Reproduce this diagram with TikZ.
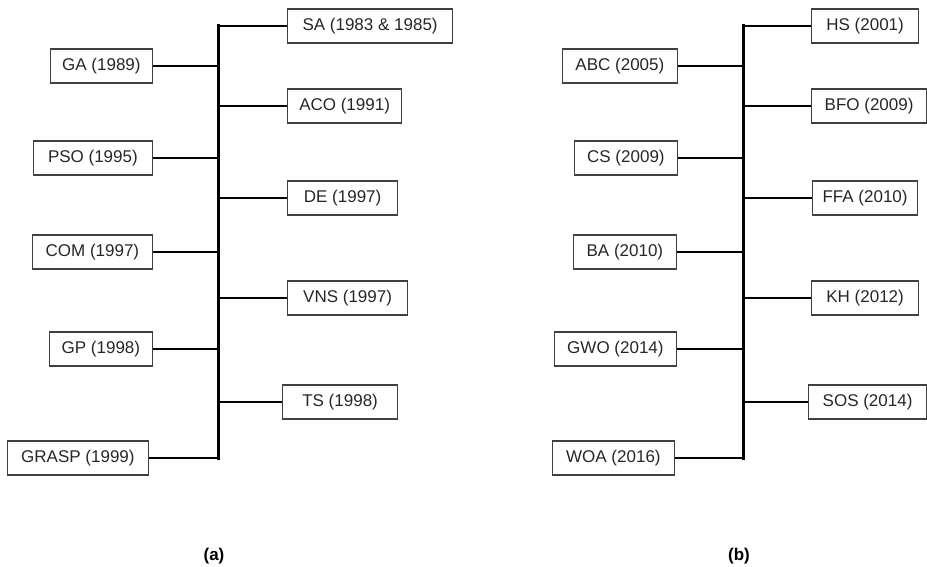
\documentclass[tikz,border=0pt]{standalone}
\usepackage{fontspec}
\setmainfont{Liberation Sans}

\begin{document}
\begin{tikzpicture}[x=1pt,y=-1pt,
    algo/.style={draw=black!75,line width=1.2pt,minimum height=34pt,inner sep=0pt,text=black!85,font=\fontsize{17}{20}\selectfont},
    spine/.style={line width=3pt,line cap=rect},
    branch/.style={line width=2.2pt},
    caption/.style={font=\bfseries\fontsize{17}{20}\selectfont}]
  \useasboundingbox (0,0) rectangle (927,567);
  % (a) older methods
  \coordinate (ax) at (218,0);
  \foreach \t/\w/\y/\r [count=\i] in {GA (1989)/102/66/153, PSO (1995)/119/158/153, COM (1997)/120/252/153, GP (1998)/103/349/153, GRASP (1999)/141/458/149}{
    \node[algo,anchor=east,minimum width=\w] (al\i) at (\r,\y) {\t};
    \draw[branch] (al\i.east) -- (al\i.east -| ax);}
  \foreach \t/\w/\y/\l [count=\i] in {SA (1983 \& 1985)/165/26/287, ACO (1991)/114/106/287, DE (1997)/110/198/287, VNS (1997)/120/298/287, TS (1998)/115/402/282}{
    \node[algo,anchor=west,minimum width=\w] (ar\i) at (\l,\y) {\t};
    \draw[branch] (ar\i.west) -- (ar\i.west -| ax);}
  \draw[spine] (ar1.west -| ax) -- (al5.east -| ax);
  \node[caption] (capa) at (214,556) {(a)};
  % (b) newer methods
  \coordinate (bx) at (743,0);
  \foreach \t/\w/\y/\r [count=\i] in {ABC (2005)/115/66/678, CS (2009)/103/158/678, BA (2010)/103/252/677, GWO (2014)/122/349/677, WOA (2016)/122/458/675}{
    \node[algo,anchor=east,minimum width=\w] (bl\i) at (\r,\y) {\t};
    \draw[branch] (bl\i.east) -- (bl\i.east -| bx);}
  \foreach \t/\w/\y/\l [count=\i] in {HS (2001)/107/26/811, BFO (2009)/115/106/811, FFA (2010)/105/198/812, KH (2012)/107/298/811, SOS (2014)/118/402/808}{
    \node[algo,anchor=west,minimum width=\w] (br\i) at (\l,\y) {\t};
    \draw[branch] (br\i.west) -- (br\i.west -| bx);}
  \draw[spine] (br1.west -| bx) -- (bl5.east -| bx);
  \node[caption] (capb) at (739,556) {(b)};
\end{tikzpicture}
\end{document}
